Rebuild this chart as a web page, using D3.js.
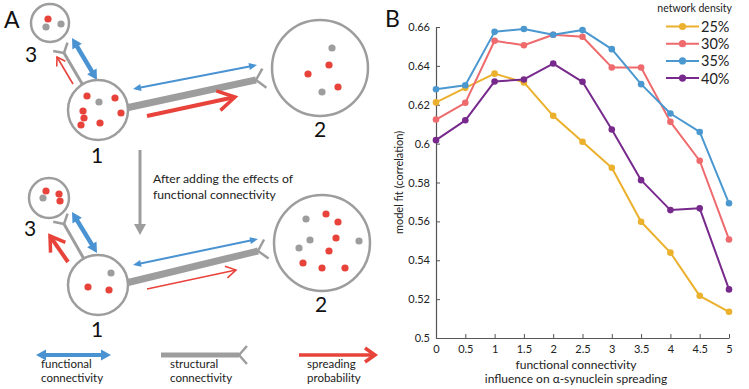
<!DOCTYPE html>
<html><head><meta charset="utf-8">
<script src="https://cdnjs.cloudflare.com/ajax/libs/d3/7.8.5/d3.min.js"></script>
<style>body{margin:0;background:#fff}svg{display:block}text{font-family:Lato,"Open Sans",sans-serif}</style>
</head><body>
<svg id="c" width="749" height="389"></svg>
<script>
// ---------- Panel B data ----------
const xValues = [0, 0.5, 1, 1.5, 2, 2.5, 3, 3.5, 4, 4.5, 5];
const density25 = [0.6212, 0.6287, 0.6360, 0.6315, 0.6143, 0.6010, 0.5876, 0.5598, 0.5439, 0.5217, 0.5135];
const density30 = [0.6124, 0.6210, 0.6529, 0.6506, 0.6560, 0.6550, 0.6392, 0.6392, 0.6112, 0.5912, 0.5507];
const density35 = [0.6280, 0.6300, 0.6575, 0.6590, 0.6560, 0.6584, 0.6486, 0.6306, 0.6155, 0.6060, 0.5693];
const density40 = [0.6018, 0.6120, 0.6320, 0.6330, 0.6412, 0.6318, 0.6073, 0.5812, 0.5658, 0.5667, 0.5250];
const seriesNames = ["25%", "30%", "35%", "40%"];
const seriesColors = ["#EBB02C", "#EE6A6C", "#4B98D0", "#772A8C"];
const yTickValues = [0.5, 0.52, 0.54, 0.56, 0.58, 0.6, 0.62, 0.64, 0.66];
const xTickValues = [0, 0.5, 1, 1.5, 2, 2.5, 3, 3.5, 4, 4.5, 5];
const yLabel = "model fit (correlation)";
const xLabel1 = "functional connectivity";
const xLabel2 = "influence on α-synuclein spreading";
const legendTitle = "network density";

const svg = d3.select("#c");
const RED = "#E8433B", BLUE = "#4A93D2", GRAY = "#9D9D9D";

// ---------- Panel B chart ----------
const x = d3.scaleLinear().domain([0, 5]).range([436, 729]);
const y = d3.scaleLinear().domain([0.5, 0.66]).range([338, 27]);
const axCol = "#555";

const gx = svg.append("g").attr("transform", "translate(0,338)")
  .call(d3.axisBottom(x).tickValues(xTickValues).tickSizeInner(-4).tickSizeOuter(0).tickPadding(7)
    .tickFormat(d => String(d)));
const gy = svg.append("g").attr("transform", "translate(436,0)")
  .call(d3.axisLeft(y).tickValues(yTickValues).tickSizeInner(-4).tickSizeOuter(0).tickPadding(6)
    .tickFormat(d => String(+d.toFixed(2))));
[gx, gy].forEach(g => {
  g.select(".domain").attr("stroke", axCol).attr("stroke-width", 1.2);
  g.selectAll(".tick line").attr("stroke", axCol).attr("stroke-width", 1);
  g.selectAll(".tick text").attr("fill", "#222").style("font-size", "11px").style("font-family", "Lato");
});

const allSeries = [density25, density30, density35, density40];
const line = d3.line().x((d, i) => x(xValues[i])).y(d => y(d));
allSeries.forEach((s, k) => {
  svg.append("path").datum(s).attr("d", line).attr("fill", "none")
    .attr("stroke", seriesColors[k]).attr("stroke-width", 2).attr("stroke-linejoin", "round");
  svg.append("g").selectAll("circle").data(s).join("circle")
    .attr("cx", (d, i) => x(xValues[i])).attr("cy", d => y(d)).attr("r", 3.3)
    .attr("fill", seriesColors[k]);
});

svg.append("text").attr("transform", "translate(403,182.5) rotate(-90)").attr("text-anchor", "middle")
  .style("font-size", "11px").attr("fill", "#222").text(yLabel);
svg.append("text").attr("x", 576).attr("y", 369).attr("text-anchor", "middle")
  .style("font-size", "12px").attr("fill", "#222").text(xLabel1);
svg.append("text").attr("x", 576).attr("y", 383).attr("text-anchor", "middle")
  .style("font-size", "12px").attr("fill", "#222").text(xLabel2);

// legend
svg.append("text").attr("x", 732).attr("y", 12).attr("text-anchor", "end")
  .style("font-size", "10.5px").attr("fill", "#222").text(legendTitle);
seriesNames.forEach((n, k) => {
  const ly = 26.5 + k * 17.2;
  svg.append("line").attr("x1", 666).attr("x2", 699).attr("y1", ly).attr("y2", ly)
    .attr("stroke", seriesColors[k]).attr("stroke-width", 2);
  svg.append("circle").attr("cx", 682.5).attr("cy", ly).attr("r", 3.6).attr("fill", seriesColors[k]);
  svg.append("text").attr("x", 701).attr("y", ly + 5.5).style("font-size", "14.5px").attr("fill", "#222").text(n);
});

svg.append("text").attr("x", 385).attr("y", 27).style("font-size", "23px").attr("fill", "#111").text("B");

// ---------- Panel A schematic ----------
svg.append("text").attr("x", 4).attr("y", 28).style("font-size", "23px").attr("fill", "#111").text("A");

function arrow(x1, y1, x2, y2, o) {
  const g = svg.append("g");
  const dx = x2 - x1, dy = y2 - y1, L = Math.hypot(dx, dy), ux = dx / L, uy = dy / L, px = -uy, py = ux;
  const hl = o.hl || 10, hw = o.hw || 5;
  let sx = x1, sy = y1, ex = x2, ey = y2;
  if (o.type === "tri") {
    ex = x2 - ux * hl * 0.8; ey = y2 - uy * hl * 0.8;
    if (o.both) { sx = x1 + ux * hl * 0.8; sy = y1 + uy * hl * 0.8; }
  }
  g.append("line").attr("x1", sx).attr("y1", sy).attr("x2", ex).attr("y2", ey)
    .attr("stroke", o.color).attr("stroke-width", o.w);
  const tri = (tx, ty, vx, vy) => {
    const bx = tx - vx * hl, by = ty - vy * hl, qx = -vy, qy = vx;
    g.append("path").attr("d", `M${tx},${ty}L${bx + qx * hw},${by + qy * hw}L${bx - qx * hw},${by - qy * hw}Z`)
      .attr("fill", o.color);
  };
  if (o.type === "tri") {
    tri(x2, y2, ux, uy);
    if (o.both) tri(x1, y1, -ux, -uy);
  } else {
    g.append("path").attr("d", `M${x2 - ux * hl + px * hw},${y2 - uy * hl + py * hw}L${x2},${y2}L${x2 - ux * hl - px * hw},${y2 - uy * hl - py * hw}`)
      .attr("fill", "none").attr("stroke", o.color).attr("stroke-width", o.cw || o.w)
      .attr("stroke-linejoin", "miter").attr("stroke-linecap", "butt");
  }
}
function fork(x1, y1, x2, y2, w, bw, bl) {
  const dx = x2 - x1, dy = y2 - y1, L = Math.hypot(dx, dy), ux = dx / L, uy = dy / L;
  svg.append("line").attr("x1", x1).attr("y1", y1).attr("x2", x2).attr("y2", y2)
    .attr("stroke", GRAY).attr("stroke-width", w);
  [1, -1].forEach(s => {
    const a = s * 0.85, c = Math.cos(a), sn = Math.sin(a);
    const vx = ux * c - uy * sn, vy = ux * sn + uy * c;
    svg.append("line").attr("x1", x2).attr("y1", y2).attr("x2", x2 + vx * bl).attr("y2", y2 + vy * bl)
      .attr("stroke", GRAY).attr("stroke-width", bw).attr("stroke-linecap", "butt");
  });
}
function node(cx, cy, r, dots, label, lx, ly) {
  svg.append("circle").attr("cx", cx).attr("cy", cy).attr("r", r)
    .attr("fill", "#fff").attr("stroke", GRAY).attr("stroke-width", 2.5);
  dots.forEach(d => svg.append("circle").attr("cx", d[0]).attr("cy", d[1]).attr("r", 3.6)
    .attr("fill", d[2] ? RED : GRAY));
  svg.append("text").attr("x", lx).attr("y", ly).attr("text-anchor", "middle")
    .style("font-size", "21px").attr("fill", "#111").text(label);
}

// top scenario
fork(84, 87, 64, 53, 3, 2.5, 11);
fork(126, 108, 256, 80, 7, 2.5, 13);
arrow(72, 38, 97, 80, { type: "tri", both: true, color: BLUE, w: 4.5, hl: 10, hw: 5.5 });
arrow(73, 84, 57, 57, { type: "chev", color: RED, w: 1.6, hl: 8, hw: 5 });
arrow(133, 89, 257, 65, { type: "tri", both: true, color: BLUE, w: 2, hl: 8, hw: 3.5 });
arrow(147, 116, 235, 97, { type: "chev", color: RED, w: 4, cw: 3.5, hl: 17, hw: 10 });
node(50, 23, 19, [[48, 19, 1], [46, 27, 0], [61, 24, 0]], "3", 31, 62);
node(98, 110, 30, [[87, 96, 1], [99, 102, 0], [115, 98, 1], [121, 113, 1], [83, 111, 1], [84, 118, 1], [81, 125, 1], [100, 123, 1]], "1", 97, 163);
node(320, 68, 48, [[332, 48, 0], [329, 65, 1], [308, 74, 1], [338, 87, 1], [322, 92, 0]], "2", 320, 137);

// middle
arrow(140, 150, 140, 235, { type: "tri", color: GRAY, w: 3, hl: 11, hw: 6 });
svg.append("text").attr("x", 153).attr("y", 183).style("font-size", "12.2px").attr("fill", "#222").text("After adding the effects of");
svg.append("text").attr("x", 153).attr("y", 199).style("font-size", "12.2px").attr("fill", "#222").text("functional connectivity");

// bottom scenario
fork(84, 259, 64, 224, 3, 2.5, 11);
fork(126, 283, 258, 251, 7, 2.5, 13);
arrow(72, 212, 97, 253, { type: "tri", both: true, color: BLUE, w: 4.5, hl: 10, hw: 5.5 });
arrow(68, 262, 50, 236, { type: "chev", color: RED, w: 4, cw: 3.5, hl: 14, hw: 9 });
arrow(133, 265, 258, 239, { type: "tri", both: true, color: BLUE, w: 2, hl: 8, hw: 3.5 });
arrow(147, 289, 236, 270, { type: "chev", color: RED, w: 1.6, hl: 10, hw: 6 });
node(49, 198, 20, [[46, 191, 1], [59, 194, 1], [60, 201, 1], [43, 198, 0]], "3", 30, 236);
node(98, 285, 30, [[111, 273, 0], [88, 287, 1], [109, 290, 1]], "1", 97, 337);
node(322, 243, 48, [[306, 219, 0], [326, 214, 1], [338, 222, 1], [336, 238, 1], [310, 240, 0], [359, 241, 0], [299, 248, 0], [329, 251, 1], [303, 263, 1], [322, 268, 1], [345, 268, 1]], "2", 321, 312);

// legend of panel A
arrow(36, 355, 111, 355, { type: "tri", both: true, color: BLUE, w: 4, hl: 10, hw: 5.5 });
fork(161, 355, 239, 355, 5, 2.5, 12);
arrow(299, 355, 375, 355, { type: "chev", color: RED, w: 3.5, hl: 10, hw: 7 });
[["functional", "connectivity", 41], ["structural", "connectivity", 170], ["spreading", "probability", 307]].forEach(t => {
  svg.append("text").attr("x", t[2]).attr("y", 368).style("font-size", "11.5px").attr("fill", "#222").text(t[0]);
  svg.append("text").attr("x", t[2]).attr("y", 382).style("font-size", "11.5px").attr("fill", "#222").text(t[1]);
});
</script>
</body></html>
